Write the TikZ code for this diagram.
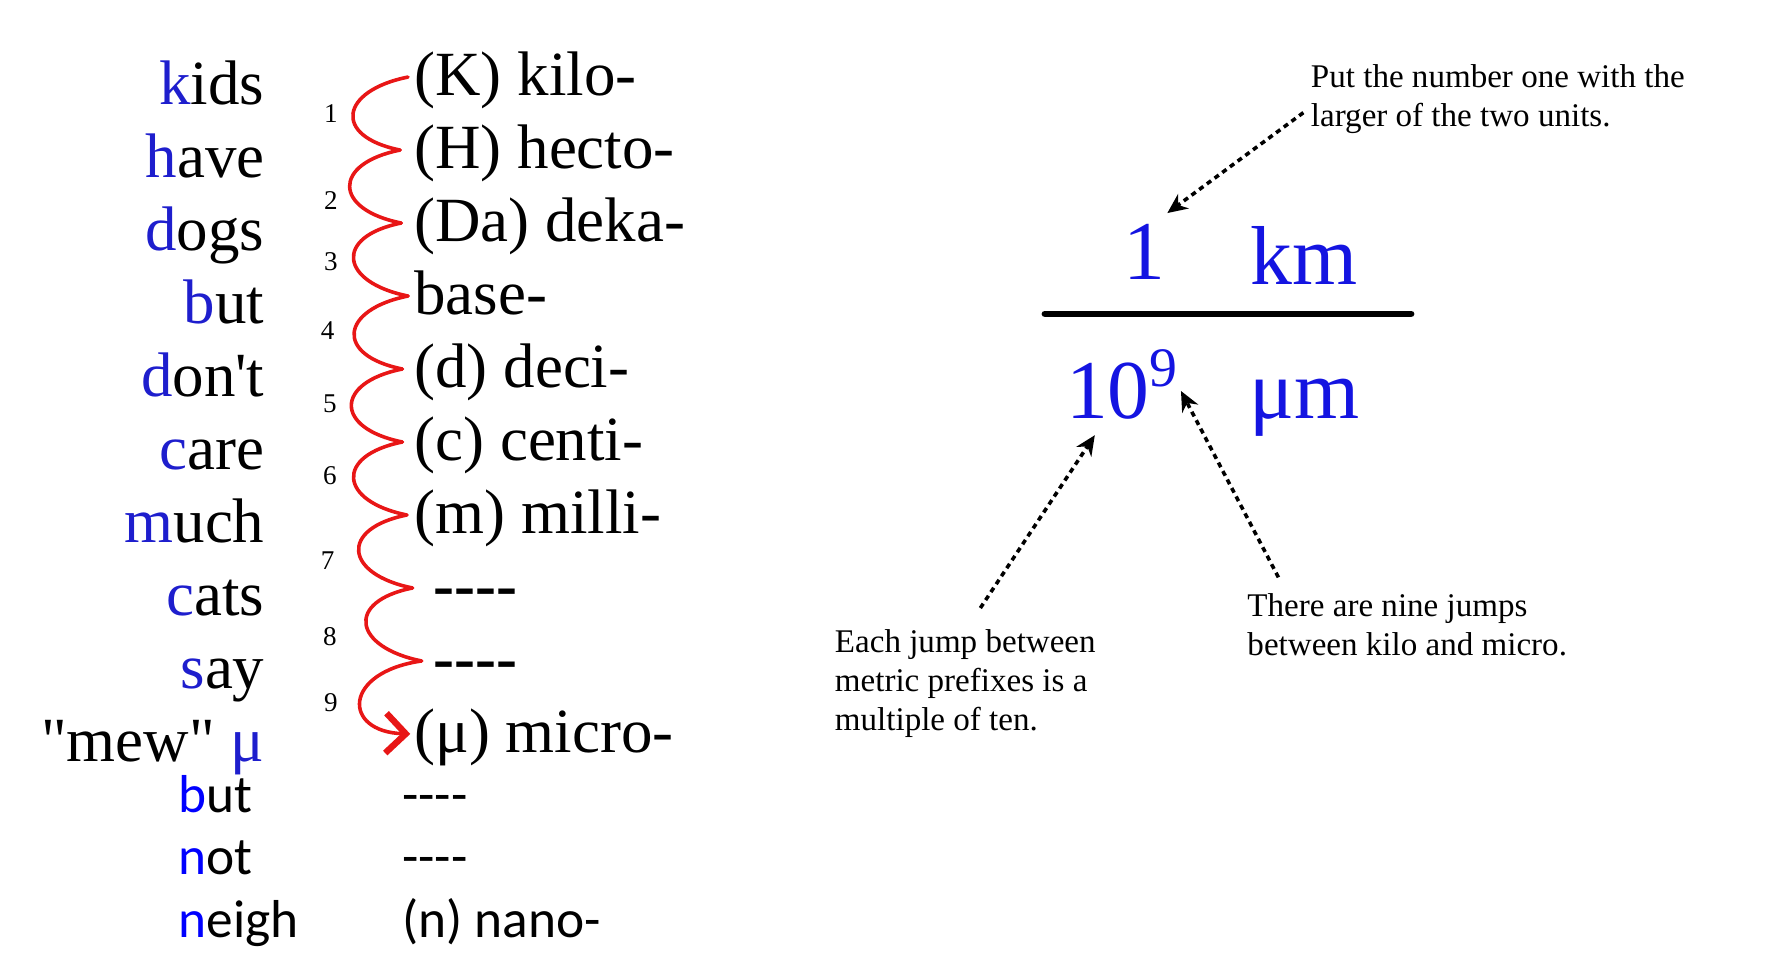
\documentclass[tikz,border=0pt]{standalone}
\usepackage{fontspec}
\newfontfamily\rowfont{Liberation Serif}
\newfontfamily\calfont{Carlito}
\usetikzlibrary{arrows.meta}
\definecolor{wordblue}{RGB}{30,30,205}
\definecolor{fracblue}{RGB}{20,20,225}
\definecolor{jumpred}{RGB}{232,22,22}

\begin{document}
\begin{tikzpicture}[
  wordbox/.style={font=\rowfont\fontsize{15.8}{18}\selectfont, inner sep=0pt, anchor=base east},
  prefixbox/.style={font=\rowfont\fontsize{15.8}{18}\selectfont, inner sep=0pt, text height=0.42cm, text depth=0.10cm, anchor=base west},
  jumpnum/.style={font=\rowfont\fontsize{6.8}{8}\selectfont, inner sep=0pt},
  lowbox/.style={font=\calfont\fontsize{13.4}{15}\selectfont, inner sep=0pt, anchor=base west},
  fracbox/.style={font=\rowfont\fontsize{21}{24}\selectfont, text=fracblue, inner sep=0pt},
  notebox/.style={font=\rowfont\fontsize{8.3}{9.8}\selectfont, align=left, inner sep=0pt, anchor=north west},
  jumpline/.style={draw=jumpred, line width=0.9pt, line cap=round, line join=round},
  hintline/.style={line width=0.9pt, dash pattern=on 1.3pt off 1.1pt, -{Stealth[length=5pt,width=4.5pt]}}
]
  \useasboundingbox (0,0) rectangle (15.6,8.594);

  % mnemonic words and prefixes
  \foreach \lead/\tail [count=\i from 0] in {k/ids, h/ave, d/ogs, b/ut, d/on't, c/are, m/uch, c/ats, s/ay}{
    \node[wordbox] (w\i) at (2.34,7.669-0.644*\i) {\textcolor{wordblue}{\lead}\tail};
  }
  \foreach \pre [count=\i from 0] in {{(K) kilo-}, {(H) hecto-}, {(Da) deka-}, {base-}, {(d) deci-}, {(c) centi-}, {(m) milli-}}{
    \node[prefixbox] (p\i) at (3.65,7.754-0.644*\i) {\pre};
  }
  \node[prefixbox, font=\rowfont\bfseries\fontsize{15.8}{18}\selectfont] (p7) at (3.82,3.246) {----};
  \node[prefixbox, font=\rowfont\bfseries\fontsize{15.8}{18}\selectfont] (p8) at (3.82,2.602) {----};
  \node[prefixbox] (p9) at (3.65,1.958) {(μ) micro-};
  \node[wordbox] (w9) at (2.34,1.873) {"mew" \textcolor{wordblue}{μ}};

  % the rows below micro
  \foreach \lead/\tail/\pre [count=\i from 0] in {b/ut/{----}, n/ot/{----}, n/eigh/{(n) nano-}}{
    \node[lowbox] (b\i) at (1.57,1.424-0.55*\i) {\textcolor{blue}{\lead}\tail};
    \node[lowbox] (q\i) at (3.54,1.424-0.55*\i) {\pre};
  }

  % jump numbers
  \foreach \n/\x/\y in {1/2.92/7.594, 2/2.92/6.824, 3/2.92/6.284, 4/2.89/5.674, 5/2.91/5.034, 6/2.91/4.394, 7/2.89/3.644, 8/2.91/2.974, 9/2.92/2.394}
    \node[jumpnum] (n\n) at (\x,\y) {\n};

  % red jumps
  \foreach \i/\dx in {0/0.05, 1/0.12, 2/0.11, 3/0.05, 4/0.10, 5/0.10, 6/0.06, 7/0.18, 8/0.10, 9/0.03}
    \coordinate (c\i) at ([xshift=-\dx cm]p\i.west);
  \foreach \i/\j in {0/1, 1/2, 2/3, 3/4, 4/5, 5/6, 6/7, 7/8}
    \draw[jumpline] (c\i) .. controls +(-0.6,-0.12) and +(-0.6,0.12) .. (c\j);
  \draw[jumpline, -{Straight Barb[length=5pt,width=10pt,line width=1.6pt]}] (c8) .. controls +(-0.7,-0.1) and +(-0.6,0.02) .. (c9);

  % conversion factor
  \node[fracbox, anchor=base] (one) at (10.10,6.124) {1};
  \node[fracbox, anchor=base west] (km) at (11.03,6.084) {km};
  \draw[line width=1.7pt, line cap=round] (9.22,5.824) -- (12.45,5.824);
  \node[fracbox, anchor=base west] (ten) at (9.40,4.904) {10\raisebox{0.28cm}{\fontsize{14}{14}\selectfont 9}};
  \node[fracbox, anchor=base west] (mum) at (11.02,4.904) {μm};

  % notes
  \node[notebox] (putnote) at (11.56,8.03) {Put the number one with the\\larger of the two units.};
  \node[notebox] (eachnote) at (7.36,3.044) {Each jump between\\metric prefixes is a\\multiple of ten.};
  \node[notebox] (ninenote) at (11.00,3.368) {There are nine jumps\\between kilo and micro.};

  \coordinate (putend) at (11.50,7.60);
  \coordinate (onetip) at (10.30,6.714);
  \coordinate (eachend) at (8.65,3.229);
  \coordinate (tentip) at (9.66,4.754);
  \coordinate (nineend) at (11.28,3.50);
  \coordinate (ninetip) at (10.42,5.144);
  \draw[hintline] (putend) -- (onetip);
  \draw[hintline] (eachend) -- (tentip);
  \draw[hintline] (nineend) -- (ninetip);
\end{tikzpicture}
\end{document}
